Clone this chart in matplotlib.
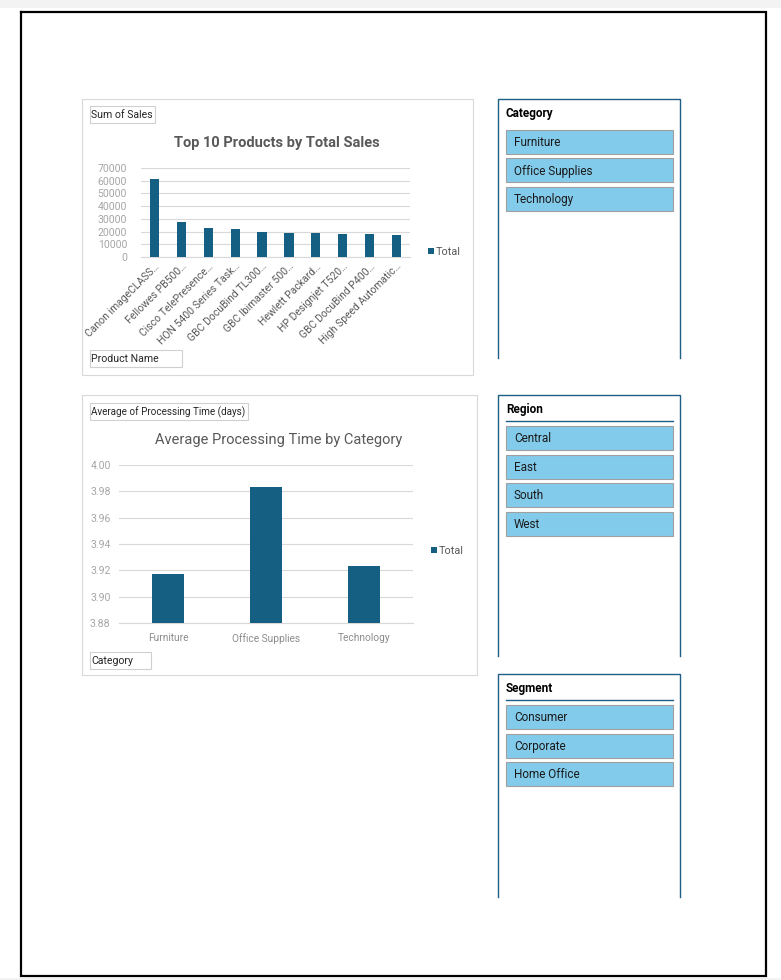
import matplotlib
matplotlib.use("Agg")
import matplotlib.pyplot as plt
from matplotlib.patches import Rectangle

plt.rcParams['font.family'] = ['Roboto', 'DejaVu Sans']

# data
products = ["Canon imageCLASS…", "Fellowes PB500…", "Cisco TelePresence…",
            "HON 5400 Series Task…", "GBC DocuBind TL300…", "GBC Ibimaster 500…",
            "Hewlett Packard…", "HP Designjet T520…", "GBC DocuBind P400…",
            "High Speed Automatic…"]
sales = [61600, 27453, 22638, 21870, 19823, 19024, 18840, 18375, 17965, 17030]
sales_ticks = [0, 10000, 20000, 30000, 40000, 50000, 60000, 70000]

categories = ["Furniture", "Office Supplies", "Technology"]
proc_time = [3.917, 3.983, 3.923]
proc_ticks = [3.88, 3.90, 3.92, 3.94, 3.96, 3.98, 4.00]

slicers = {
    "Category": ["Furniture", "Office Supplies", "Technology"],
    "Region": ["Central", "East", "South", "West"],
    "Segment": ["Consumer", "Corporate", "Home Office"],
}

W, H = 781, 980
BAR = "#156082"
SLICE_FILL = "#83CBEB"
FRAME = "#1F5F86"
GRID = "#D9D9D9"

fig = plt.figure(figsize=(W / 100, H / 100), dpi=100, facecolor="white")
bg = fig.add_axes([0, 0, 1, 1])
bg.set_xlim(0, W)
bg.set_ylim(H, 0)
bg.axis("off")


def px_axes(x0, y0, x1, y1):
    return fig.add_axes([x0 / W, 1 - y1 / H, (x1 - x0) / W, (y1 - y0) / H])


def box(x0, y0, x1, y1, **kw):
    bg.add_patch(Rectangle((x0, y0), x1 - x0, y1 - y0, **kw))


def field_button(x0, y0, x1, y1, label, size=7.6):
    box(x0, y0, x1, y1, facecolor="white", edgecolor="#D0D0D0", lw=0.8)
    bg.text(x0 + 1, (y0 + y1) / 2 + 0.5, label, fontsize=size, color="#262626",
            va="center", ha="left")


def legend_total(ax, x, y):
    ax.legend(loc="center left", bbox_to_anchor=(x / W, 1 - y / H),
              bbox_transform=fig.transFigure, frameon=False, fontsize=7.8,
              handlelength=0.55, handleheight=0.55, handletextpad=0.15,
              labelcolor="#595959", borderpad=0, borderaxespad=0)


# page
box(0, 0, W, 8, facecolor="#F3F3F3", edgecolor="none")
box(0, 978, W, 980, facecolor="#F3F3F3", edgecolor="none")
bg.plot([21, 766, 766, 21, 21], [12, 12, 976, 976, 12], color="black", lw=1.6,
        solid_joinstyle="miter")

# chart 1: top 10 products
box(82, 99, 473, 375, facecolor="white", edgecolor=GRID, lw=0.8)
field_button(90, 106, 155, 123, "Sum of Sales")
field_button(90, 350, 182, 367, "Product Name")
bg.text(277, 143, "Top 10 Products by Total Sales", fontsize=10.5, fontweight="bold",
        color="#595959", ha="center", va="center")

ax1 = px_axes(141, 168, 410, 257)
ax1.bar(range(len(sales)), sales, width=0.34, color=BAR, label="Total", zorder=3)
ax1.set_xlim(-0.5, len(sales) - 0.5)
ax1.set_ylim(0, 70000)
ax1.set_yticks(sales_ticks)
ax1.set_yticklabels([str(t) for t in sales_ticks])
ax1.set_xticks(range(len(sales)))
ax1.set_xticklabels(products, rotation=45, ha="right", rotation_mode="anchor")
ax1.grid(axis="y", color=GRID, lw=0.8, zorder=0)
for s in ["top", "right", "left"]:
    ax1.spines[s].set_visible(False)
ax1.spines["bottom"].set_color(GRID)
ax1.tick_params(axis="y", length=0, labelsize=7.6, labelcolor="#A6A6A6", pad=10)
ax1.tick_params(axis="x", length=0, labelsize=7.5, labelcolor="#595959", pad=3)
legend_total(ax1, 428, 252)

# chart 2: processing time
box(82, 395, 477, 675, facecolor="white", edgecolor=GRID, lw=0.8)
field_button(90, 403, 248, 420, "Average of Processing Time (days)", size=7.1)
field_button(90, 652, 151, 669, "Category")
bg.text(279, 440, "Average Processing Time by Category", fontsize=10.5,
        color="#595959", ha="center", va="center")

ax2 = px_axes(119, 465, 413, 623)
ax2.bar(range(len(proc_time)), proc_time, width=0.32, color=BAR, label="Total", zorder=3)
ax2.set_xlim(-0.5, len(proc_time) - 0.5)
ax2.set_ylim(3.88, 4.00)
ax2.set_yticks(proc_ticks)
ax2.set_yticklabels([f"{t:.2f}" for t in proc_ticks])
ax2.set_xticks(range(len(proc_time)))
ax2.set_xticklabels(categories)
ax2.grid(axis="y", color=GRID, lw=0.8, zorder=0)
for s in ["top", "right", "left"]:
    ax2.spines[s].set_visible(False)
ax2.spines["bottom"].set_color(GRID)
ax2.tick_params(axis="y", length=0, labelsize=7.6, labelcolor="#A6A6A6", pad=6)
ax2.tick_params(axis="x", length=0, labelsize=7.3, labelcolor="#8C8C8C", pad=7)
legend_total(ax2, 431, 551)

# slicers
slicer_pos = {"Category": (99, 358, False), "Region": (395, 656, True),
              "Segment": (674, 897, True)}
for name, items in slicers.items():
    top, bottom, underline = slicer_pos[name]
    bg.plot([498, 498, 680, 680], [bottom, top, top, bottom], color=FRAME, lw=1.0,
            solid_joinstyle="miter")
    bg.text(506, top + 14, name, fontsize=8.5, fontweight="bold", color="black",
            va="center", ha="left")
    if underline:
        bg.plot([506, 673], [top + 26, top + 26], color=FRAME, lw=1.0)
    y = top + 31
    for item in items:
        box(506, y, 673, y + 24, facecolor=SLICE_FILL, edgecolor="#A0A0A0", lw=0.8)
        bg.text(514, y + 12.5, item, fontsize=8.5, color="#1A1A1A", va="center", ha="left")
        y += 28.5

fig.savefig("out.png", dpi=100, facecolor="white")
